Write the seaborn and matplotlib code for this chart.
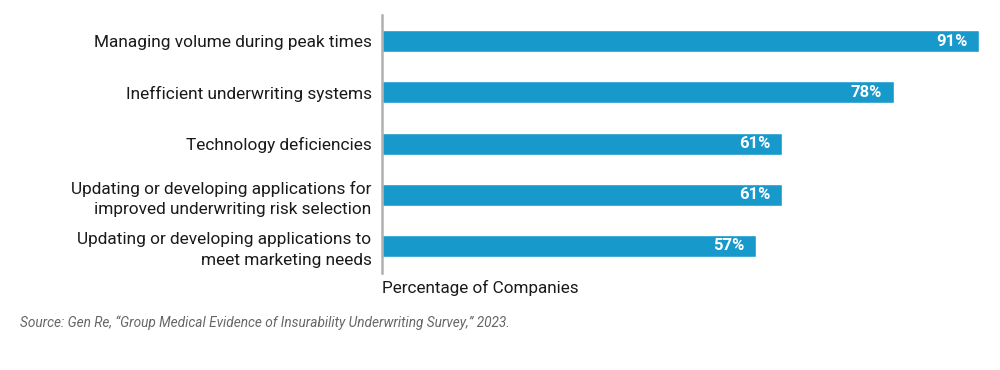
import matplotlib
matplotlib.use('Agg')
import matplotlib.pyplot as plt
import seaborn as sns
import pandas as pd

categories = [
    'Managing volume during peak times',
    'Inefficient underwriting systems',
    'Technology deficiencies',
    'Updating or developing applications for\nimproved underwriting risk selection',
    'Updating or developing applications to\nmeet marketing needs',
]
values = [91, 78, 61, 61, 57]
value_labels = ['91%', '78%', '61%', '61%', '57%']

df = pd.DataFrame({'challenge': categories, 'pct': values})

sns.set_style('white')
plt.rcParams['font.family'] = ['Roboto', 'DejaVu Sans']

fig = plt.figure(figsize=(10, 3.7), dpi=100)
ax = fig.add_axes([0.382, 0.262, 0.597, 0.6975])

sns.barplot(data=df, x='pct', y='challenge', color='#1899cc', saturation=1,
            width=0.43, orient='h', ax=ax)

for i, (v, lab) in enumerate(zip(values, value_labels)):
    ax.annotate(lab, xy=(v, i), xytext=(-8.5, 0), textcoords='offset points',
                ha='right', va='center', color='white', fontsize=12,
                fontweight='bold')

ax.set_xlim(0, 91)
ax.set_ylim(4.53, -0.51)
ax.set_xticks([])
ax.set_ylabel('')
ax.set_xlabel('')
for s in ['top', 'right', 'bottom']:
    ax.spines[s].set_visible(False)
ax.spines['left'].set_color('#b0b0b0')
ax.spines['left'].set_linewidth(1.8)
ax.tick_params(axis='y', length=0, pad=7.5, labelsize=12.4, labelcolor='#1a1a1a')
for t in ax.get_yticklabels():
    t.set_horizontalalignment('right')
    t.set_linespacing(1.45)

fig.text(0.382, 1 - 288 / 370, 'Percentage of Companies', ha='left', va='center',
         fontsize=12.3, color='#1a1a1a')
fig.text(0.02, 1 - 323 / 370,
         'Source: Gen Re, \u201cGroup Medical Evidence of Insurability Underwriting Survey,\u201d 2023.',
         ha='left', va='center', fontsize=9.8, style='italic', color='#666666')

fig.savefig('out.png', dpi=100)
